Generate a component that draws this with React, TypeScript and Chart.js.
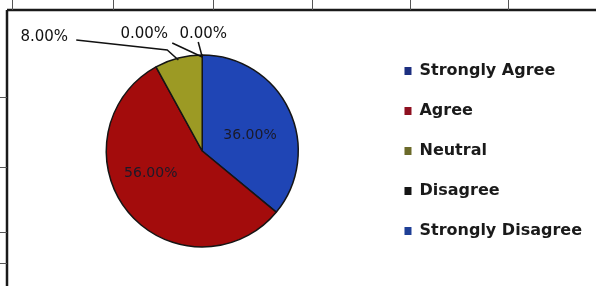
import React, { useEffect, useRef } from "react";
import { Chart, registerables } from "chart.js";

Chart.register(...registerables);

const categories = ["Strongly Agree", "Agree", "Neutral", "Disagree", "Strongly Disagree"];
const values = [36, 56, 8, 0, 0];
const labelsText = ["36.00%", "56.00%", "8.00%", "0.00%", "0.00%"];
const colors = ["#1f45b5", "#a30c0c", "#9c9a24", "#151515", "#1f45a8"];
const legendBoxColors = ["#1d2f80", "#8e1020", "#6b6a2a", "#151515", "#1f3f96"];

const framePlugin = {
  id: "frame",
  beforeDraw(chart: any) {
    const ctx = chart.ctx;
    ctx.save();
    ctx.fillStyle = "#ffffff";
    ctx.fillRect(0, 0, chart.width, chart.height);
    ctx.strokeStyle = "#1a1a1a";
    ctx.lineWidth = 2.5;
    ctx.beginPath();
    ctx.moveTo(7, 10);
    ctx.lineTo(chart.width, 10);
    ctx.moveTo(7, 10);
    ctx.lineTo(7, chart.height);
    ctx.stroke();
    ctx.lineWidth = 1;
    ctx.strokeStyle = "#555";
    ctx.beginPath();
    [12, 113, 213, 312, 410, 508].forEach((x) => {
      ctx.moveTo(x + 0.5, 0);
      ctx.lineTo(x + 0.5, 10);
    });
    [97, 167, 232, 263].forEach((y) => {
      ctx.moveTo(0, y + 0.5);
      ctx.lineTo(7, y + 0.5);
    });
    ctx.stroke();
    ctx.restore();
  },
};

const labelPlugin = {
  id: "pieLabels",
  afterDatasetsDraw(chart: any) {
    const ctx = chart.ctx;
    const meta = chart.getDatasetMeta(0);
    ctx.save();
    ctx.textAlign = "center";
    ctx.textBaseline = "middle";
    meta.data.forEach((arc: any, i: number) => {
      const { x: cx, y: cy, outerRadius: r, startAngle, endAngle } = arc.getProps(
        ["x", "y", "outerRadius", "startAngle", "endAngle"],
        true
      );
      const mid = (startAngle + endAngle) / 2;
      if (values[i] >= 20) {
        const f = i === 0 ? 0.55 : 0.52;
        const dx = i === 0 ? 0 : -13;
        const dy = i === 0 ? 7 : -9;
        const lx = cx + Math.cos(mid) * r * f + dx;
        const ly = cy + Math.sin(mid) * r * f + dy;
        ctx.font = "14px 'DejaVu Sans'";
        ctx.fillStyle = "#1a1a2a";
        ctx.fillText(labelsText[i], lx, ly);
      } else {
        const ax = cx + Math.cos(mid) * r;
        const ay = cy + Math.sin(mid) * r;
        let tx = 0, ty = 0, sx = 0, sy = 0;
        if (i === 2) {
          tx = cx - 158; ty = cy - 114; sx = cx - 126; sy = cy - 111;
        } else if (i === 3) {
          tx = cx - 58; ty = cy - 117; sx = cx - 30; sy = cy - 108;
        } else {
          tx = cx + 1; ty = cy - 117; sx = cx - 4; sy = cy - 109;
        }
        ctx.strokeStyle = "#111";
        ctx.lineWidth = 1.5;
        ctx.beginPath();
        ctx.moveTo(sx, sy);
        if (i === 2) ctx.lineTo(cx - 35, cy - 101);
        ctx.lineTo(ax, ay + 2);
        ctx.stroke();
        ctx.font = "15px 'DejaVu Sans'";
        ctx.fillStyle = "#111";
        ctx.fillText(labelsText[i], tx, ty);
      }
    });
    ctx.restore();
  },
};

export default function App() {
  const ref = useRef<HTMLCanvasElement>(null);
  useEffect(() => {
    document.body.style.margin = "0";
    const chart = new Chart(ref.current as HTMLCanvasElement, {
      type: "pie",
      data: {
        labels: categories,
        datasets: [
          {
            data: values,
            backgroundColor: colors,
            borderColor: "#151515",
            borderWidth: 1.5,
            radius: 96,
          },
        ],
      },
      options: {
        responsive: false,
        animation: false,
        layout: { padding: { top: 16, bottom: 0, left: 24, right: 4 } },
        plugins: {
          tooltip: { enabled: false },
          legend: {
            position: "right",
            labels: {
              boxWidth: 7,
              boxHeight: 8,
              padding: 24,
              color: "#1a1a1a",
              font: { family: "'DejaVu Sans'", size: 16, weight: "bold" },
              generateLabels: (c: any) =>
                categories.map((t, i) => ({
                  text: t,
                  fillStyle: legendBoxColors[i],
                  strokeStyle: legendBoxColors[i],
                  lineWidth: 0,
                  hidden: false,
                  index: i,
                  fontColor: "#1a1a1a",
                })),
            },
          },
        },
      },
      plugins: [framePlugin, labelPlugin],
    });
    return () => chart.destroy();
  }, []);
  return <canvas ref={ref} width={596} height={286} style={{ display: "block" }} />;
}
